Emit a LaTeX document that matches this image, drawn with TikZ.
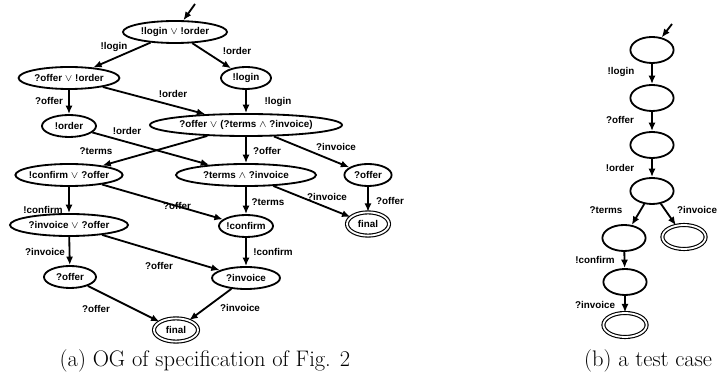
\documentclass[tikz,border=0pt]{standalone}
\usepackage{fontspec}
\usepackage{amsmath}
\usetikzlibrary{shapes.geometric,arrows.meta}
\newfontfamily\lblfont{Liberation Sans}
\tikzset{
  every node/.style={font={\lblfont\bfseries\fontsize{7pt}{8pt}\selectfont}}}

\begin{document}
\begin{tikzpicture}[x=0.025cm,y=-0.025cm]
\tikzstyle{state}=[draw,ellipse,line width=1.3pt,inner sep=0pt,minimum height=0.55cm,
  execute at begin node={\hbox to 0pt\bgroup\hss},
  execute at end node={\hss\egroup}]
\tikzstyle{final}=[state,double,line width=0.8pt,double distance=1.3pt]
\tikzstyle{edge}=[line width=1.3pt,-{Latex[length=6pt,width=5pt]}]
\tikzstyle{lbl}=[inner sep=0pt]
\tikzstyle{caption}=[font=\fontsize{16pt}{18pt}\selectfont]
\useasboundingbox (0,0) rectangle (718,379);
% (a) OG
\coordinate (start) at (195,4);
\node[state,minimum width=2.6cm] (lo) at (175,32) {!login $\vee$ !order};
\node[state,minimum width=2.52cm] (oo) at (69,78) {?offer $\vee$ !order};
\node[state,minimum width=1.25cm] (li) at (246,78) {!login};
\node[state,minimum width=1.35cm] (or) at (69,126) {!order};
\node[state,minimum width=4.8cm] (oti) at (246,125) {?offer $\vee$ (?terms $\wedge$ ?invoice)};
\node[state,minimum width=2.68cm] (co) at (69,175) {!confirm $\vee$ ?offer};
\node[state,minimum width=3.5cm] (ti) at (246,175) {?terms $\wedge$ ?invoice};
\node[state,minimum width=1.18cm] (of) at (368,175) {?offer};
\node[state,minimum width=2.95cm] (io) at (69,225) {?invoice $\vee$ ?offer};
\node[state,minimum width=1.35cm] (cf) at (246,226) {!confirm};
\node[final,minimum width=1.05cm,minimum height=0.58cm] (fa) at (368,224) {final};
\node[state,minimum width=1.3cm] (of2) at (70,277) {?offer};
\node[state,minimum width=1.7cm] (in) at (246,278) {?invoice};
\node[final,minimum width=1.1cm,minimum height=0.58cm] (fb) at (176,330) {final};
\draw[edge] (start) -- (lo);
\draw[edge] (lo) -- (oo) node[lbl] at (114,47) {!login};
\draw[edge] (lo) -- (li) node[lbl] at (237,51) {!order};
\draw[edge] (oo) -- (or) node[lbl] at (49,101) {?offer};
\draw[edge] (oo) -- (oti) node[lbl] at (173,94) {!order};
\draw[edge] (li) -- (oti) node[lbl] at (278,102) {!login};
\draw[edge] (or) -- (ti) node[lbl] at (127,131) {!order};
\draw[edge] (oti) -- (co) node[lbl] at (96,151) {?terms};
\draw[edge] (oti) -- (ti) node[lbl] at (267,151) {?offer};
\draw[edge] (oti) -- (of) node[lbl] at (336,147) {?invoice};
\draw[edge] (co) -- (io) node[lbl] at (43,210) {!confirm};
\draw[edge] (co) -- (cf) node[lbl] at (177,206) {?offer};
\draw[edge] (ti) -- (cf) node[lbl] at (268,202) {?terms};
\draw[edge] (ti) -- (fa) node[lbl] at (327,197) {?invoice};
\draw[edge] (of) -- (fa) node[lbl] at (390,201) {?offer};
\draw[edge] (io) -- (of2) node[lbl] at (45,252) {?invoice};
\draw[edge] (io) -- (in) node[lbl] at (159,266) {?offer};
\draw[edge] (cf) -- (in) node[lbl] at (273,252) {!confirm};
\draw[edge] (of2) -- (fb) node[lbl] at (96,309) {?offer};
\draw[edge] (in) -- (fb) node[lbl] at (240,308) {?invoice};
\node[caption] (capa) at (205,361) {(a) OG of specification of Fig. 2};
% (b) test case
\coordinate (tstart) at (672,24);
\node[state,minimum width=1.08cm,minimum height=0.65cm] (t1) at (652,50) {};
\node[state,minimum width=1.08cm,minimum height=0.65cm] (t2) at (652,98) {};
\node[state,minimum width=1.08cm,minimum height=0.65cm] (t3) at (652,145) {};
\node[state,minimum width=1.08cm,minimum height=0.65cm] (t4) at (652,191) {};
\node[state,minimum width=1.08cm,minimum height=0.65cm] (t5) at (624,238) {};
\node[final,minimum width=1.08cm,minimum height=0.6cm] (t6) at (684,237) {};
\node[state,minimum width=1.08cm,minimum height=0.65cm] (t7) at (625,282) {};
\node[final,minimum width=1.08cm,minimum height=0.6cm] (t8) at (625,325) {};
\draw[edge] (tstart) -- (t1);
\draw[edge] (t1) -- (t2) node[lbl] at (621,72) {!login};
\draw[edge] (t2) -- (t3) node[lbl] at (620,120) {?offer};
\draw[edge] (t3) -- (t4) node[lbl] at (620,168) {!order};
\draw[edge] (t4) -- (t5) node[lbl] at (606,210) {?terms};
\draw[edge] (t4) -- (t6) node[lbl] at (697,210) {?invoice};
\draw[edge] (t5) -- (t7) node[lbl] at (595,260) {!confirm};
\draw[edge] (t7) -- (t8) node[lbl] at (595,305) {?invoice};
\node[caption,anchor=east] (capb) at (717,361) {(b) a test case};
\end{tikzpicture}
\end{document}
